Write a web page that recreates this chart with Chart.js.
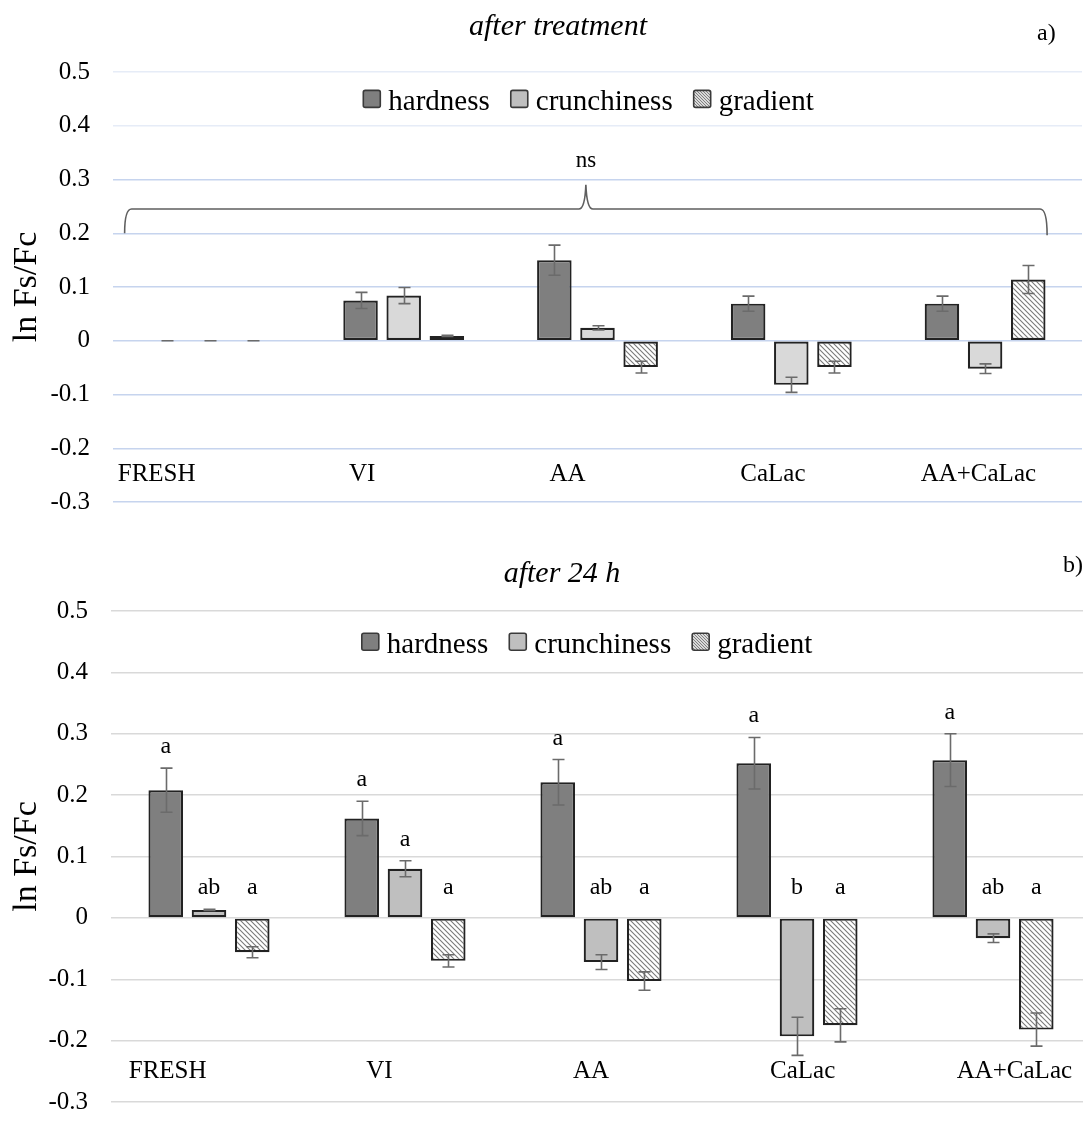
<!DOCTYPE html>
<html><head><meta charset="utf-8">
<script src="https://cdn.jsdelivr.net/npm/chart.js@4.4.1/dist/chart.umd.min.js"></script>
<style>
html,body{margin:0;padding:0;background:#fff;overflow:hidden;width:1083px;height:1129px;position:relative;}
#c1{position:absolute;left:0;top:0;}
#c2{position:absolute;left:0;top:540px;}
</style></head><body>
<canvas id="c1" width="1083" height="540"></canvas>
<canvas id="c2" width="1092" height="600"></canvas>
<script>
// ---------- data ----------
const categories = ['FRESH', 'VI', 'AA', 'CaLac', 'AA+CaLac'];
const seriesNames = ['hardness', 'crunchiness', 'gradient'];
const yTicks = [-0.3, -0.2, -0.1, 0, 0.1, 0.2, 0.3, 0.4, 0.5];

// a) after treatment
const hardnessA = [0, 0.075, 0.150, 0.069, 0.069];
const hardnessErrA = [0, 0.015, 0.028, 0.014, 0.014];
const crunchinessA = [0, 0.084, 0.024, -0.082, -0.052];
const crunchinessErrA = [0, 0.015, 0.004, 0.014, 0.009];
const gradientA = [0, 0.009, -0.049, -0.049, 0.114];
const gradientErrA = [0, 0.001, 0.011, 0.011, 0.026];

// b) after 24 h
const hardnessB = [0.208, 0.162, 0.221, 0.252, 0.257];
const hardnessErrB = [0.036, 0.028, 0.037, 0.042, 0.043];
const crunchinessB = [0.013, 0.080, -0.072, -0.193, -0.033];
const crunchinessErrB = [0.001, 0.013, 0.012, 0.031, 0.007];
const gradientB = [-0.056, -0.070, -0.103, -0.175, -0.182];
const gradientErrB = [0.009, 0.010, 0.015, 0.027, 0.027];
const lettersHardnessB = ['a', 'a', 'a', 'a', 'a'];
const lettersCrunchinessB = ['ab', 'a', 'ab', 'b', 'ab'];
const lettersGradientB = ['a', 'a', 'a', 'a', 'a'];

// ---------- styling helpers ----------
const SERIF = "'Liberation Serif', 'Times New Roman', serif";
function hatch(size) {
  const c = document.createElement('canvas');
  c.width = c.height = size;
  const g = c.getContext('2d');
  g.fillStyle = '#ffffff'; g.fillRect(0, 0, size, size);
  g.strokeStyle = '#7a7a7a'; g.lineWidth = 1.1;
  g.beginPath();
  for (let k = -size; k <= size; k += size) { g.moveTo(k - 1, -1); g.lineTo(k + size + 1, size + 1); }
  g.stroke();
  return g.createPattern(c, 'repeat');
}
const hatchFill = hatch(5);
const legendHatch = hatch(3);

function makeChart(canvasId, opt) {
  const ds = [
    { label: seriesNames[0], data: opt.h, errors: opt.he, backgroundColor: '#7f7f7f', legendFill: '#7f7f7f', letters: opt.lh },
    { label: seriesNames[1], data: opt.c, errors: opt.ce, backgroundColor: opt.crunchColor, legendFill: '#bfbfbf', letters: opt.lc },
    { label: seriesNames[2], data: opt.g, errors: opt.ge, backgroundColor: hatchFill, legendFill: legendHatch, letters: opt.lg }
  ].map(d => Object.assign(d, { borderColor: '#222222', borderWidth: 2.2, borderSkipped: false, inflateAmount: 0,
      categoryPercentage: opt.catPct, barPercentage: 0.8 }));

  const plugin = {
    id: 'extras',
    afterDatasetsDraw(chart) {
      const { ctx, scales: { y } } = chart;
      ctx.save();
      ctx.strokeStyle = '#6b6b6b'; ctx.lineWidth = 1.6;
      chart.data.datasets.forEach((d, i) => {
        chart.getDatasetMeta(i).data.forEach((bar, j) => {
          const v = d.data[j], e = d.errors[j];
          const yt = y.getPixelForValue(v + e), yb = y.getPixelForValue(v - e);
          const x = Math.round(bar.x) + 0.5, hw = 6;
          ctx.beginPath();
          ctx.moveTo(x, yt); ctx.lineTo(x, yb);
          ctx.moveTo(x - hw, yt); ctx.lineTo(x + hw, yt);
          ctx.moveTo(x - hw, yb); ctx.lineTo(x + hw, yb);
          ctx.stroke();
        });
      });
      ctx.restore();
    },
    afterDraw(chart) {
      const { ctx, chartArea: ca, scales: { x, y } } = chart;
      const cc = (ca.left + ca.right) / 2;
      ctx.save();
      ctx.fillStyle = '#000';
      // title
      ctx.font = 'italic 30px ' + SERIF;
      ctx.textAlign = 'center'; ctx.textBaseline = 'alphabetic';
      ctx.fillText(opt.title, opt.titleX, opt.titleY);
      // panel tag
      ctx.font = '24px ' + SERIF;
      ctx.textAlign = 'left';
      ctx.fillText(opt.tag, opt.tagX, opt.tagY);
      // legend
      ctx.font = '29px ' + SERIF;
      const box = 17, gapT = 8, gapI = 21;
      const items = chart.data.datasets.map(d => ({ t: d.label, f: d.legendFill, w: ctx.measureText(d.label).width }));
      const total = items.reduce((s, it) => s + box + gapT + it.w, 0) + gapI * (items.length - 1);
      let lx = cc + opt.legendShift - total / 2;
      const ly = y.getPixelForValue(0.45);
      items.forEach(it => {
        ctx.fillStyle = it.f;
        ctx.beginPath(); ctx.roundRect(lx, ly - box / 2, box, box, 2); ctx.fill();
        ctx.strokeStyle = '#3a3a3a'; ctx.lineWidth = 1.6; ctx.stroke();
        ctx.fillStyle = '#000';
        ctx.fillText(it.t, lx + box + gapT, ly + 11);
        lx += box + gapT + it.w + gapI;
      });
      // category labels (inside plot, low position)
      ctx.font = '25px ' + SERIF;
      ctx.textAlign = 'center';
      const ly2 = y.getPixelForValue(-0.261);
      chart.data.labels.forEach((lab, i) => {
        const gx = x.getPixelForValue(i);
        ctx.fillText(lab, cc + (gx - cc) * opt.labelSpread + opt.labelShift, ly2);
      });
      // significance letters
      ctx.font = '24px ' + SERIF;
      const zero = y.getPixelForValue(0);
      chart.data.datasets.forEach((d, i) => {
        if (!d.letters) return;
        chart.getDatasetMeta(i).data.forEach((bar, j) => {
          const v = d.data[j], e = d.errors[j];
          const base = v >= 0 ? Math.min(y.getPixelForValue(v + e) - 15, zero - 24) : zero - 24;
          ctx.fillText(d.letters[j], bar.x, base);
        });
      });
      // brace + ns
      if (opt.brace) {
        const xl = x.getPixelForValue(-0.44), xr = x.getPixelForValue(4.32);
        const xm = (xl + xr) / 2;
        const yb0 = y.getPixelForValue(0.2), yh = y.getPixelForValue(0.245), yp = y.getPixelForValue(0.29);
        ctx.strokeStyle = '#5f5f5f'; ctx.lineWidth = 1.6;
        ctx.beginPath();
        ctx.moveTo(xl, yb0);
        ctx.quadraticCurveTo(xl, yh, xl + 7, yh);
        ctx.lineTo(xm - 7, yh);
        ctx.quadraticCurveTo(xm - 1, yh, xm, yp);
        ctx.quadraticCurveTo(xm + 1, yh, xm + 7, yh);
        ctx.lineTo(xr - 7, yh);
        ctx.quadraticCurveTo(xr, yh, xr, yb0 + 2);
        ctx.stroke();
        ctx.fillStyle = '#000';
        ctx.font = '23px ' + SERIF;
        ctx.fillText('ns', xm, y.getPixelForValue(0.323));
      }
      ctx.restore();
    }
  };

  return new Chart(document.getElementById(canvasId), {
    type: 'bar',
    data: { labels: categories, datasets: ds },
    plugins: [plugin],
    options: {
      responsive: false, animation: false, devicePixelRatio: 1,
      layout: { padding: { left: 0, right: opt.padRight, top: opt.padTop, bottom: opt.padBottom } },
      plugins: { legend: { display: false }, tooltip: { enabled: false }, title: { display: false } },
      scales: {
        x: { type: 'category', display: false, offset: true, grid: { display: false } },
        y: {
          min: -0.3, max: 0.5,
          afterBuildTicks: s => { s.ticks = yTicks.map(v => ({ value: v })); },
          afterFit: s => { s.width = opt.axisWidth; },
          border: { display: false },
          grid: { color: opt.gridColor, lineWidth: 1.5, drawTicks: false },
          ticks: { padding: 23, color: '#000', font: { family: SERIF, size: 25 },
                   callback: v => String(Math.round(v * 10) / 10) },
          title: { display: true, text: 'ln Fs/Fc', color: '#000',
                   font: { family: SERIF, size: 34, lineHeight: 1 }, padding: { top: 10, bottom: 0 } }
        }
      }
    }
  });
}

makeChart('c1', {
  h: hardnessA, he: hardnessErrA, c: crunchinessA, ce: crunchinessErrA, g: gradientA, ge: gradientErrA,
  crunchColor: '#d9d9d9', catPct: 0.668,
  title: 'after treatment', titleX: 558, titleY: 35, tag: 'a)', tagX: 1037, tagY: 40,
  legendShift: -9, labelSpread: 1.06, labelShift: -30, brace: true,
  padTop: 72, padBottom: 34, padRight: 1, axisWidth: 113,
  gridColor: c => (c.tick && c.tick.value > 0.35) ? '#e6ecf7' : '#c6d4ee'
});

makeChart('c2', {
  h: hardnessB, he: hardnessErrB, c: crunchinessB, ce: crunchinessErrB, g: gradientB, ge: gradientErrB,
  lh: lettersHardnessB, lc: lettersCrunchinessB, lg: lettersGradientB,
  crunchColor: '#bfbfbf', catPct: 0.662,
  title: 'after 24 h', titleX: 562, titleY: 42, tag: 'b)', tagX: 1063, tagY: 32,
  legendShift: -14, labelSpread: 1.08, labelShift: -10, brace: false,
  padTop: 71, padBottom: 23, padRight: 1, axisWidth: 111,
  gridColor: '#d9d9d9'
});
</script>
</body></html>
